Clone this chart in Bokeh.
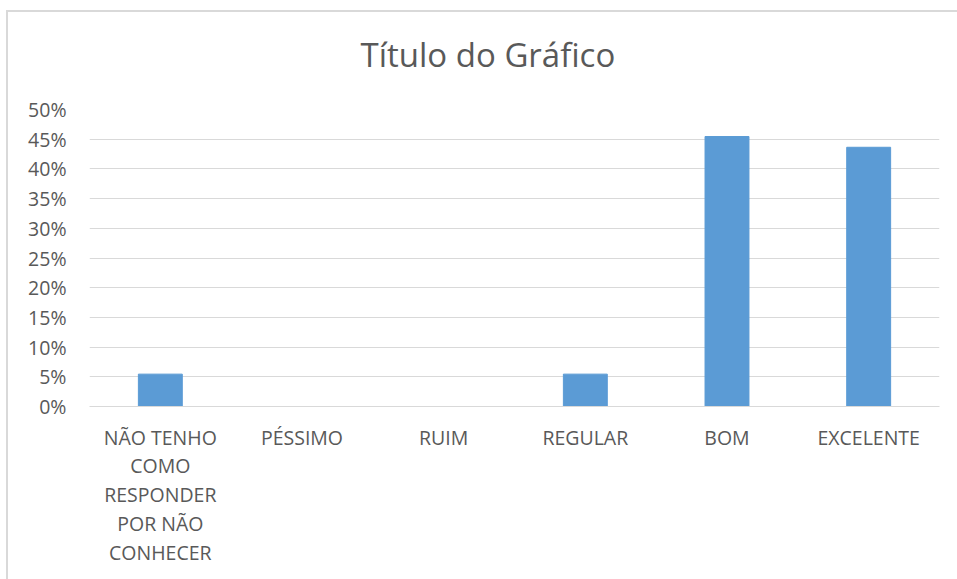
from bokeh.plotting import figure
from bokeh.models import ColumnDataSource, FactorRange, Range1d, FixedTicker, NumeralTickFormatter, Title
from bokeh.embed import file_html
from bokeh.resources import INLINE

categories = ["NÃO TENHO\nCOMO\nRESPONDER\nPOR NÃO\nCONHECER", "PÉSSIMO", "RUIM", "REGULAR", "BOM", "EXCELENTE"]
values = [0.0545, 0.0, 0.0, 0.0545, 0.4545, 0.4364]
y_ticks = [0.0, 0.05, 0.10, 0.15, 0.20, 0.25, 0.30, 0.35, 0.40, 0.45, 0.50]

FONT = "Open Sans"
TXT = "#595959"
GRID = "#d9d9d9"

src = ColumnDataSource(data=dict(cat=categories, val=values))

p = figure(
    x_range=FactorRange(*categories, range_padding=0.0),
    y_range=Range1d(0, 0.5),
    frame_width=850, frame_height=297,
    min_border_left=89, min_border_top=109, min_border_right=18, min_border_bottom=173,
    output_backend="svg", toolbar_location=None,
    background_fill_color="white", border_fill_color=None,
    outline_line_color=None,
    styles={"background": "white",
            "box-shadow": "inset 6px 10px 0 0 white, inset 8px 12px 0 0 #d9d9d9"},
)

t = Title(text="Título do Gráfico", align="left", offset=271, standoff=62, vertical_align="top",
          text_font=FONT, text_font_size="33px", text_font_style="normal", text_color=TXT)
p.add_layout(t, "above")

p.vbar(x="cat", top="val", width=0.31, source=src, fill_color="#5b9bd5", line_color="#5b9bd5")

p.yaxis.ticker = FixedTicker(ticks=y_ticks)
p.yaxis.formatter = NumeralTickFormatter(format="0%")
p.yaxis.axis_line_color = None
p.yaxis.major_tick_line_color = None
p.yaxis.minor_tick_line_color = None
p.yaxis.major_label_standoff = 17
p.yaxis.major_label_text_font = FONT
p.yaxis.major_label_text_font_size = "19.5px"
p.yaxis.major_label_text_color = TXT

p.xaxis.axis_line_color = GRID
p.xaxis.axis_line_width = 1
p.xaxis.major_tick_line_color = None
p.xaxis.minor_tick_line_color = None
p.xaxis.major_label_standoff = 11
p.xaxis.major_label_text_font = FONT
p.xaxis.major_label_text_font_size = "19.5px"
p.xaxis.major_label_text_color = TXT
p.xaxis.major_label_text_line_height = 1.07

p.xgrid.grid_line_color = None
p.ygrid.grid_line_color = GRID
p.ygrid.grid_line_width = 1

open("out.html", "w").write(file_html(p, INLINE))
